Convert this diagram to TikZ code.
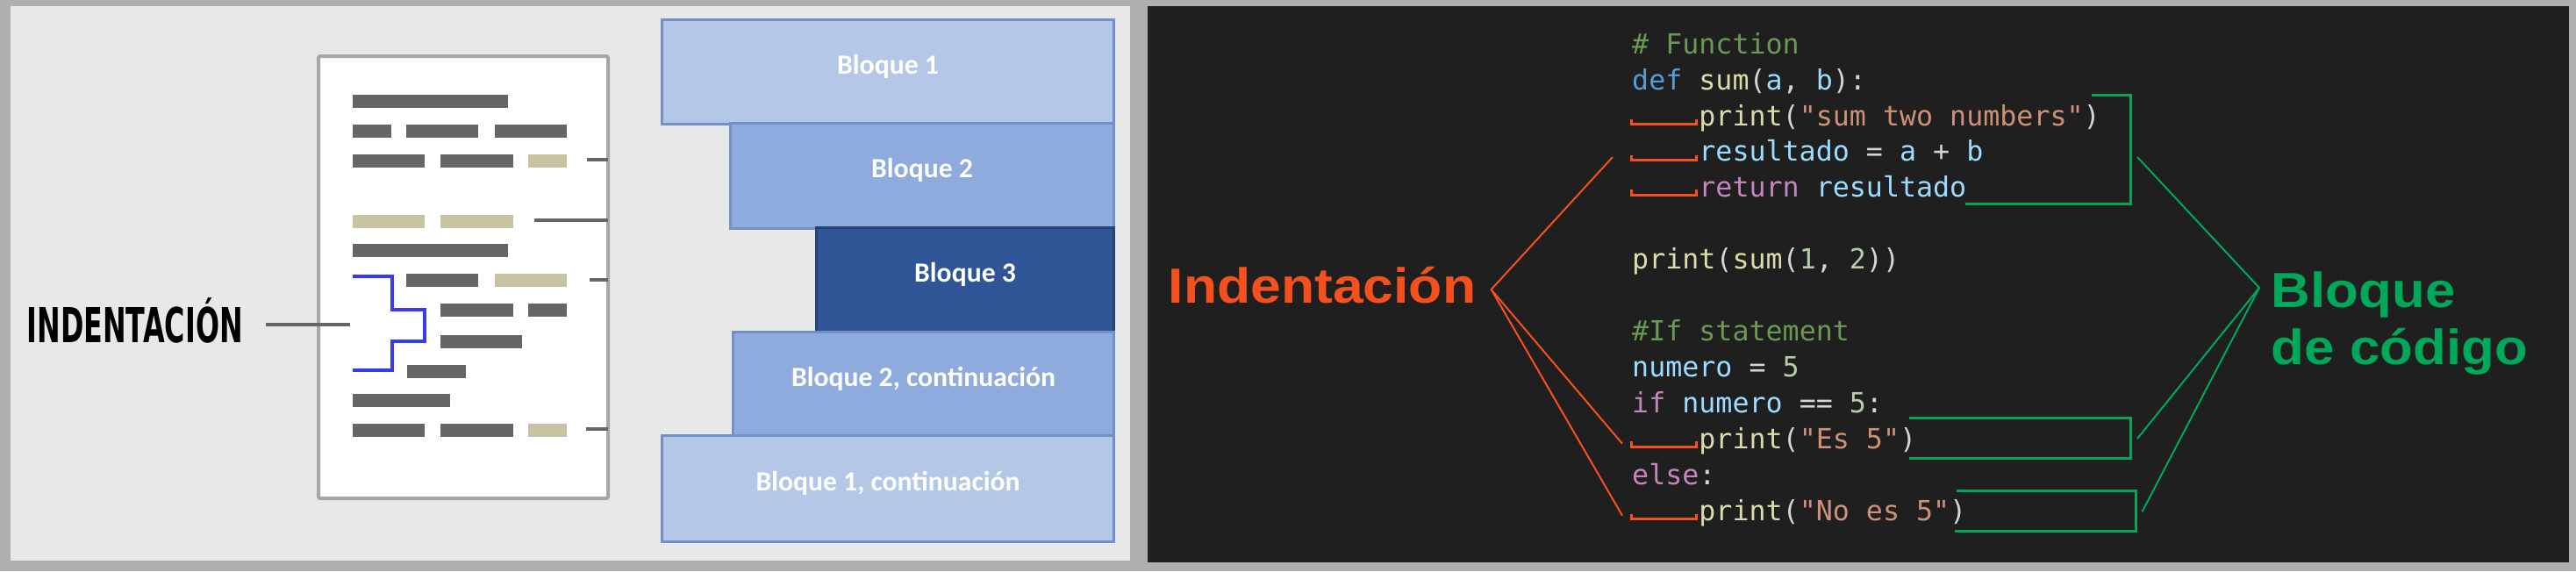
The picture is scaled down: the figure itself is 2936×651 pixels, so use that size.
\documentclass[tikz,border=0pt]{standalone}
\usepackage{fontspec}
\usepackage{graphicx}
\setmainfont{Carlito}
\newfontfamily\codefont[Ligatures=TeXOff]{DejaVu Sans Mono}
\newfontfamily\pixfont{DejaVu Sans}
\newfontfamily\labfont{Liberation Sans}
\definecolor{frame}{HTML}{AFAFAF}
\definecolor{lightbg}{HTML}{E8E8E8}
\definecolor{darkbg}{HTML}{1F1F1F}
\definecolor{docedge}{HTML}{A6A6A6}
\definecolor{bardark}{HTML}{666666}
\definecolor{bartan}{HTML}{C7C3A0}
\definecolor{stepblue}{HTML}{3A3AEE}
\definecolor{blue1}{HTML}{B4C7E7}
\definecolor{blue2}{HTML}{8FAADC}
\definecolor{blue3}{HTML}{2F5597}
\definecolor{blkedge}{HTML}{7091C9}
\definecolor{indred}{HTML}{F4511E}
\definecolor{blqgreen}{HTML}{00A859}
\definecolor{cmt}{HTML}{6A9955}
\definecolor{kwd}{HTML}{569CD6}
\definecolor{fnc}{HTML}{DCDCAA}
\definecolor{var}{HTML}{9CDCFE}
\definecolor{str}{HTML}{CE9178}
\definecolor{ctl}{HTML}{C586C0}
\definecolor{num}{HTML}{B5CEA8}
\definecolor{pun}{HTML}{D4D4D4}
\begin{document}
\begin{tikzpicture}[x=0.01cm,y=-0.01cm,
  blk/.style={draw=blkedge,line width=0.03cm,rectangle,inner sep=0pt,text=white,
    font=\bfseries\fontsize{9}{10}\selectfont,text depth=5pt},
  code/.style={anchor=base west,inner sep=0pt,text=pun,font=\codefont\fontsize{9}{10}\selectfont},
  tick/.style={draw=bardark,line width=0.04cm},
  redline/.style={draw=indred,line width=0.02cm},
  greenline/.style={draw=blqgreen,line width=0.02cm},
  redmark/.style={draw=indred,line width=0.03cm},
  greenmark/.style={draw=blqgreen,line width=0.03cm}]
  \useasboundingbox (0,0) rectangle (2936,651);
  \fill[frame] (0,0) rectangle (2936,651);
  \fill[lightbg] (12,7) rectangle (1288,639);
  \fill[darkbg] (1308,7) rectangle (2928,641);

  \draw[docedge,fill=white,line width=0.04cm,rounded corners=0.02cm] (363,64) rectangle (693,568);
  \foreach \a/\b/\y/\c in {401.7/579.3/115/bardark,
    401.7/446/149/bardark, 463.3/545.3/149/bardark, 564.3/646/149/bardark,
    401.7/484.3/183/bardark, 502.3/585.3/183/bardark, 602/646/183/bartan,
    401.7/484.3/252/bartan, 502.3/585.3/252/bartan,
    401.7/579.3/285/bardark,
    463.3/545.3/319/bardark, 564.3/646/319/bartan,
    502.3/585.3/353/bardark, 602/646/353/bardark,
    502.3/595.3/389/bardark,
    464/531/423/bardark,
    401.7/513.3/456/bardark,
    401.7/484.3/490/bardark, 502.3/585.3/490/bardark, 602/646/490/bartan} {
    \fill[\c] (\a,\y-7.5) rectangle (\b,\y+7.5);
  }
  \foreach \a/\y in {669/182, 608.7/250.8, 671.7/319.3, 667.7/489} {
    \draw[tick] (\a,\y) -- (693,\y);
  }
  \draw[stepblue,line width=0.04cm] (401.7,314.5) -- (446.7,314.5) -- (446.7,353)
    -- (484,353) -- (484,388.5) -- (446.7,388.5) -- (446.7,422) -- (401.7,422);

  \node[anchor=base west,inner sep=0pt,font=\pixfont\bfseries\fontsize{15.6}{16}\selectfont]
    (indpix) at (30,390) {\scalebox{0.58}[1]{INDENTACIÓN}};
  \coordinate (pixend) at (302.7,370);
  \coordinate (docstep) at (399,370);
  \draw[tick] (pixend) -- (docstep);

  \node[blk,fill=blue1,minimum width=5.14cm,minimum height=1.18cm] (blq1) at (1012,82) {Bloque 1};
  \node[blk,fill=blue2,minimum width=4.36cm,minimum height=1.19cm] (blq2) at (1051,200.5) {Bloque 2};
  \node[blk,fill=blue3,draw=blue3!80!black,minimum width=3.38cm,minimum height=1.19cm] (blq3) at (1100,319.5) {Bloque 3};
  \node[blk,fill=blue2,minimum width=4.33cm,minimum height=1.18cm] (blq2c) at (1052.5,438) {Bloque 2, continuación};
  \node[blk,fill=blue1,minimum width=5.14cm,minimum height=1.20cm] (blq1c) at (1012,557) {Bloque 1, continuación};

  \node[code] (ln1) at (1859.5,61) {\textcolor{cmt}{\# Function}};
  \node[code] (ln2) at (1859.5,102) {\textcolor{kwd}{def} \textcolor{fnc}{sum}(\textcolor{var}{a}, \textcolor{var}{b}):};
  \node[code] (ln3) at (1935.7,143) {\textcolor{fnc}{print}(\textcolor{str}{"sum two numbers"})};
  \node[code] (ln4) at (1935.7,183) {\textcolor{var}{resultado} = \textcolor{var}{a} + \textcolor{var}{b}};
  \node[code] (ln5) at (1935.7,224) {\textcolor{ctl}{return} \textcolor{var}{resultado}};
  \node[code] (ln7) at (1859.5,306) {\textcolor{fnc}{print}(\textcolor{fnc}{sum}(\textcolor{num}{1}, \textcolor{num}{2}))};
  \node[code] (ln9) at (1859.5,388) {\textcolor{cmt}{\#If statement}};
  \node[code] (ln10) at (1859.5,429) {\textcolor{var}{numero} = \textcolor{num}{5}};
  \node[code] (ln11) at (1859.5,470) {\textcolor{ctl}{if} \textcolor{var}{numero} == \textcolor{num}{5}:};
  \node[code] (ln12) at (1935.7,511) {\textcolor{fnc}{print}(\textcolor{str}{"Es 5"})};
  \node[code] (ln13) at (1859.5,552) {\textcolor{ctl}{else}:};
  \node[code] (ln14) at (1935.7,593) {\textcolor{fnc}{print}(\textcolor{str}{"No es 5"})};

  \foreach \y in {141.7,182.7,222.3,509,591.7} {
    \draw[redmark] (1859.5,\y-6) -- (1859.5,\y) -- (1933.5,\y) -- (1933.5,\y-6);
  }
  \draw[greenmark] (2384,108.3) -- (2428,108.3) -- (2428,232.3) -- (2239.7,232.3);
  \draw[greenmark] (2176.3,476.7) -- (2428,476.7) -- (2428,522.3) -- (2176.3,522.3);
  \draw[greenmark] (2229.5,559) -- (2434,559) -- (2434,605) -- (2227.7,605);

  \node[anchor=base west,inner sep=0pt,text=indred,font=\labfont\bfseries\fontsize{16}{18}\selectfont]
    (indlbl) at (1331,345.5) {\scalebox{1.11}[1]{Indentación}};
  \coordinate (indapex) at (1699.6,330);
  \coordinate (indtop) at (1838,179);
  \coordinate (indes) at (1849,505.7);
  \coordinate (indno) at (1849,587.7);
  \draw[redline] (indtop) -- (indapex) -- (indes);
  \draw[redline] (indapex) -- (indno);

  \node[anchor=base west,inner sep=0pt,text=blqgreen,font=\labfont\bfseries\fontsize{16}{18}\selectfont]
    (blqlbl) at (2588,350) {\scalebox{1.1}[1]{Bloque}};
  \node[anchor=base west,inner sep=0pt,text=blqgreen,font=\labfont\bfseries\fontsize{16}{18}\selectfont]
    (codlbl) at (2588,415) {\scalebox{1.1}[1]{de código}};
  \coordinate (blqapex) at (2575,328);
  \coordinate (blqtop) at (2436,179);
  \coordinate (blqes) at (2436,500);
  \coordinate (blqno) at (2441.5,583.3);
  \draw[greenline] (blqtop) -- (blqapex) -- (blqes);
  \draw[greenline] (blqapex) -- (blqno);
\end{tikzpicture}
\end{document}
